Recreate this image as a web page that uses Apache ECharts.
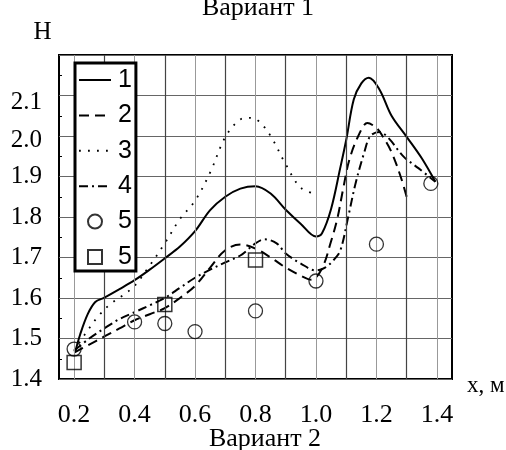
<!DOCTYPE html>
<html>
<head>
<meta charset="utf-8">
<script src="https://cdn.jsdelivr.net/npm/echarts@6/dist/echarts.min.js"></script>
<style>html,body{margin:0;padding:0;background:#fff}#c{width:506px;height:450px}</style>
</head>
<body>
<div id="c"></div>
<script>
// ---- data ----
const xTickLabels = [0.2, 0.4, 0.6, 0.8, 1.0, 1.2, 1.4];
const xGridValues = [0.2, 0.3, 0.4, 0.5, 0.6, 0.7, 0.8, 0.9, 1.0, 1.1, 1.2, 1.3, 1.4];
const yTickLabels = [1.4, 1.5, 1.6, 1.7, 1.8, 1.9, 2.0, 2.1];
const seriesNames = ['1', '2', '3', '4', '5', '5 '];

const curve1X = [0.204,0.22,0.245,0.27,0.3,0.35,0.4,0.45,0.5,0.55,0.6,0.65,0.7,0.75,0.8,0.85,0.9,0.95,1.0,1.02,1.05,1.08,1.1,1.125,1.15,1.175,1.21,1.25,1.3,1.35,1.395];
const curve1Y = [1.468,1.51,1.56,1.59,1.601,1.622,1.644,1.67,1.698,1.727,1.765,1.817,1.85,1.87,1.876,1.858,1.818,1.783,1.752,1.76,1.82,1.92,1.99,2.09,2.13,2.144,2.115,2.05,1.998,1.945,1.887];

const curve2X = [0.2,0.25,0.3,0.35,0.4,0.45,0.5,0.55,0.6,0.65,0.7,0.75,0.8,0.85,0.9,0.95,0.985,1.02,1.05,1.071,1.09,1.11,1.14,1.17,1.2,1.22,1.25,1.28,1.3];
const curve2Y = [1.465,1.485,1.505,1.525,1.545,1.56,1.575,1.6,1.63,1.675,1.718,1.732,1.722,1.7,1.675,1.655,1.645,1.673,1.74,1.797,1.87,1.94,2.0,2.032,2.02,2.0,1.96,1.9,1.85];

const curve3X = [0.2,0.24,0.28,0.32,0.36,0.4,0.45,0.5,0.55,0.6,0.65,0.7,0.75,0.78,0.81,0.85,0.9,0.95,1.0];
const curve3Y = [1.47,1.515,1.555,1.585,1.606,1.63,1.68,1.735,1.795,1.84,1.91,1.997,2.041,2.045,2.037,2.0,1.93,1.872,1.857];

const curve4X = [0.2,0.25,0.3,0.35,0.4,0.45,0.5,0.55,0.6,0.65,0.7,0.75,0.8,0.83,0.87,0.9,0.95,1.0,1.03,1.06,1.081,1.108,1.131,1.16,1.18,1.21,1.24,1.29,1.34,1.395];
const curve4Y = [1.47,1.5,1.525,1.548,1.565,1.582,1.6,1.625,1.65,1.67,1.688,1.705,1.735,1.745,1.735,1.71,1.685,1.668,1.675,1.695,1.718,1.805,1.883,1.96,2.0,2.01,1.995,1.949,1.92,1.887];

const circlesX = [0.2, 0.4, 0.5, 0.6, 0.8, 1.0, 1.2, 1.38];
const circlesY = [1.474, 1.541, 1.537, 1.517, 1.568, 1.642, 1.733, 1.883];

const squaresX = [0.2, 0.5, 0.8];
const squaresY = [1.441, 1.584, 1.694];

// ---- build ----
const zip = (xs, ys) => xs.map((x, i) => [x, ys[i]]);
const serif = 'Liberation Serif';
const sans = 'Liberation Sans';

const lineSeries = (name, xs, ys, type, w) => ({
  name, type: 'line', data: zip(xs, ys), smooth: 0.35, symbol: 'none', z: 4,
  lineStyle: { color: '#000', width: w, type: type, cap: 'butt' },
  itemStyle: { color: '#000' }
});

const legendData = seriesNames.map((n, i) => {
  if (i < 4) return { name: n, itemStyle: { opacity: 0, color: 'transparent', borderWidth: 0 } };
  if (i === 4) return { name: n, icon: 'circle' };
  return { name: n, icon: 'path://M0,0L10,0L10,10L0,10Z' };
});

const chart = echarts.init(document.getElementById('c'), null, { renderer: 'canvas' });
chart.setOption({
  animation: false,
  backgroundColor: '#fff',
  grid: { left: 59, top: 55, right: 54, bottom: 71, show: true, borderColor: '#000', borderWidth: 2, backgroundColor: 'transparent', containLabel: false },
  xAxis: {
    type: 'value', min: 0.15, max: 1.45,
    axisLine: { show: false },
    axisTick: { show: false },
    splitLine: { show: false },
    axisLabel: {
      customValues: xTickLabels,
      formatter: v => v.toFixed(1),
      fontFamily: serif, fontSize: 26, color: '#000', margin: 23
    }
  },
  yAxis: {
    type: 'value', min: 1.4, max: 2.2, interval: 0.1,
    axisLine: { show: false },
    axisTick: { show: true, inside: true, length: 0, lineStyle: { color: '#000' } },
    minorTick: { show: true, splitNumber: 2, length: 3, lineStyle: { color: '#000', width: 1 } },
    splitLine: { show: true, lineStyle: { color: '#666', width: 1 } },
    axisLabel: {
      showMaxLabel: false,
      formatter: v => {
        const s = v.toFixed(1);
        if (s === '2.1') return '{a|' + s + '}';
        if (s === '2.0') return '{b|' + s + '}';
        if (s === '2.2') return '';
        return s;
      },
      rich: {
        a: { fontFamily: serif, fontSize: 25, color: '#000', padding: [14, 0, 0, 0] },
        b: { fontFamily: serif, fontSize: 25, color: '#000', padding: [9, 0, 0, 0] }
      },
      fontFamily: serif, fontSize: 25, color: '#000', margin: 17
    }
  },
  legend: {
    orient: 'vertical', left: 75, top: 63,
    itemWidth: 32, itemHeight: 14, itemGap: 7.4,
    padding: [3, 4, 0, 3],
    backgroundColor: '#fff', borderColor: '#000', borderWidth: 3, borderRadius: 0,
    textStyle: { fontFamily: sans, fontSize: 25, color: '#000', lineHeight: 28, padding: [0, 0, 0, 2] },
    formatter: n => n.trim(),
    data: legendData,
    z: 10
  },
  graphic: [
    { type: 'text', style: { text: 'Вариант 1', x: 258, y: 8, textAlign: 'center', textVerticalAlign: 'middle', font: '26px "Liberation Serif"', fill: '#000' } },
    { type: 'text', style: { text: 'H', x: 42.5, y: 32.5, textAlign: 'center', textVerticalAlign: 'middle', font: '25px "Liberation Serif"', fill: '#000' } },
    { type: 'text', style: { text: 'x, м', x: 467, y: 386, textAlign: 'left', textVerticalAlign: 'middle', font: '23px "Liberation Serif"', fill: '#000' } },
    { type: 'text', style: { text: 'Вариант 2', x: 265, y: 439, textAlign: 'center', textVerticalAlign: 'middle', font: '26px "Liberation Serif"', fill: '#000' } }
  ],
  series: [
    {
      name: 'grid', type: 'line', data: [], z: 1, silent: true,
      markLine: {
        silent: true, symbol: ['none', 'none'], label: { show: false }, animation: false,
        data: xGridValues.map(v => ({
          xAxis: v,
          lineStyle: Math.round(v * 10) % 2 === 1
            ? { color: '#444', width: 1.2, type: 'solid' }
            : { color: '#999', width: 1, type: 'solid' }
        }))
      }
    },
    lineSeries(seriesNames[0], curve1X, curve1Y, 'solid', 2),
    lineSeries(seriesNames[1], curve2X, curve2Y, [10, 6], 2),
    lineSeries(seriesNames[2], curve3X, curve3Y, [1.8, 7.2], 1.8),
    lineSeries(seriesNames[3], curve4X, curve4Y, [9, 4, 2, 4], 2),
    {
      name: seriesNames[4], type: 'scatter', data: zip(circlesX, circlesY), symbol: 'circle', symbolSize: 14, z: 5,
      itemStyle: { color: 'rgba(255,255,255,0)', borderColor: '#000', borderWidth: 1.3 }
    },
    {
      name: seriesNames[5], type: 'scatter', data: zip(squaresX, squaresY), symbol: 'rect', symbolSize: 14, z: 5,
      itemStyle: { color: 'rgba(255,255,255,0)', borderColor: '#000', borderWidth: 1.5 }
    }
  ]
});
</script>
</body>
</html>
